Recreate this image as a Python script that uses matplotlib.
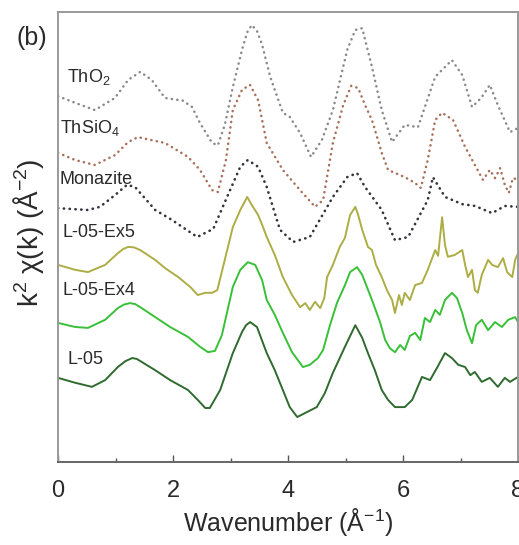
import numpy as np
import matplotlib.pyplot as plt
from matplotlib.ticker import MultipleLocator

plt.rcParams['font.family'] = ['Liberation Sans', 'DejaVu Sans']
plt.rcParams['mathtext.default'] = 'regular'

# stacked k^2-weighted EXAFS spectra (offsets already included)
k_tho2 = [0.0, 0.30, 0.64, 0.99, 1.22, 1.43, 1.63, 1.86, 2.17, 2.33, 2.47, 2.68, 2.78, 2.90,
          3.04, 3.20, 3.29, 3.37, 3.46, 3.55, 3.69, 3.91, 4.03, 4.21, 4.40, 4.59, 4.78, 5.03,
          5.17, 5.29, 5.46, 5.63, 5.81, 6.03, 6.26, 6.56, 6.85, 7.03, 7.20, 7.36, 7.51, 7.65,
          7.86, 8.0]
chi_tho2 = [8.13, 7.98, 7.82, 8.09, 8.49, 8.67, 8.49, 8.09, 8.03, 7.89, 7.53, 7.09, 7.04, 7.49,
            8.33, 9.16, 9.55, 9.71, 9.58, 9.27, 8.56, 7.76, 7.67, 7.31, 6.78, 7.16, 7.82, 9.16,
            9.60, 9.64, 8.78, 7.82, 7.11, 7.49, 7.44, 8.56, 8.93, 8.60, 7.89, 8.09, 8.38, 7.93,
            7.33, 7.42]

k_thsio4 = [0.0, 0.30, 0.64, 0.99, 1.22, 1.39, 1.60, 1.86, 2.26, 2.47, 2.68, 2.78, 2.92, 3.04,
            3.20, 3.34, 3.48, 3.63, 3.91, 4.21, 4.47, 4.61, 4.78, 4.96, 5.10, 5.22, 5.34, 5.46,
            5.63, 5.74, 6.03, 6.21, 6.31, 6.43, 6.56, 6.68, 6.87, 7.08, 7.25, 7.39, 7.51, 7.60,
            7.69, 7.77, 7.84, 7.91, 8.0]
chi_thsio4 = [6.87, 6.71, 6.60, 6.82, 7.11, 7.22, 7.16, 7.09, 6.78, 6.49, 6.04, 6.00, 6.71, 7.82,
              8.27, 8.38, 8.04, 7.09, 6.49, 6.04, 5.67, 5.82, 7.09, 7.93, 8.36, 8.31, 7.93, 7.60,
              6.87, 6.49, 6.33, 6.20, 6.09, 6.71, 7.60, 7.76, 7.60, 7.00, 6.60, 6.27, 6.49, 6.31,
              6.53, 6.16, 5.98, 6.31, 6.27]

k_monazite = [0.0, 0.52, 0.73, 0.99, 1.20, 1.34, 1.69, 1.98, 2.42, 2.70, 2.94, 3.17, 3.30, 3.48,
              3.63, 3.86, 4.09, 4.38, 4.78, 5.03, 5.20, 5.34, 5.63, 5.86, 6.09, 6.43, 6.52, 6.73,
              7.03, 7.25, 7.55, 7.77, 8.0]
chi_monazite = [5.64, 5.60, 5.67, 5.93, 6.16, 6.11, 5.60, 5.38, 5.00, 5.18, 5.89, 6.56, 6.71, 6.56,
                6.11, 5.16, 4.89, 5.00, 5.89, 6.33, 6.42, 6.11, 5.60, 4.93, 5.00, 5.82, 6.33, 5.89,
                5.73, 5.69, 5.53, 5.69, 5.67]

k_ex5 = [0.0, 0.30, 0.52, 0.82, 1.04, 1.13, 1.22, 1.32, 1.43, 1.69, 1.86, 2.09, 2.30, 2.43, 2.56,
         2.68, 2.77, 2.90, 3.04, 3.17, 3.29, 3.37, 3.48, 3.55, 3.63, 3.77, 3.91, 4.07, 4.21, 4.30,
         4.38, 4.47, 4.56, 4.63, 4.68, 4.78, 4.90, 4.99, 5.08, 5.17, 5.22, 5.29, 5.39, 5.46, 5.53,
         5.63, 5.72, 5.81, 5.86, 5.93, 5.98, 6.03, 6.12, 6.21, 6.33, 6.43, 6.56, 6.61, 6.68, 6.73,
         6.78, 6.90, 7.03, 7.08, 7.13, 7.20, 7.25, 7.30, 7.37, 7.48, 7.55, 7.65, 7.74, 7.81, 7.90,
         7.95, 8.0]
chi_ex5 = [4.38, 4.27, 4.22, 4.38, 4.64, 4.73, 4.78, 4.77, 4.71, 4.49, 4.31, 4.11, 3.89, 3.71, 3.76,
           3.76, 3.82, 4.49, 5.22, 5.60, 5.89, 5.71, 5.49, 5.27, 5.00, 4.60, 4.11, 3.71, 3.44, 3.53,
           3.38, 3.56, 3.42, 3.64, 4.11, 4.38, 4.78, 4.98, 5.49, 5.67, 5.49, 5.16, 4.78, 4.71, 4.38,
           4.11, 3.82, 3.60, 3.31, 3.71, 3.49, 3.76, 3.60, 3.93, 3.98, 4.27, 4.71, 4.58, 5.44, 4.82,
           4.56, 4.60, 4.71, 4.38, 4.11, 4.27, 3.82, 3.76, 4.16, 4.49, 4.38, 4.33, 4.53, 4.22, 4.11,
           4.49, 4.64]

k_ex4 = [0.0, 0.30, 0.52, 0.82, 1.04, 1.15, 1.25, 1.34, 1.43, 1.69, 1.95, 2.26, 2.47, 2.61, 2.73,
         2.85, 3.04, 3.17, 3.30, 3.43, 3.55, 3.63, 3.77, 3.91, 4.07, 4.26, 4.38, 4.52, 4.61, 4.73,
         4.85, 4.99, 5.08, 5.20, 5.29, 5.46, 5.60, 5.69, 5.77, 5.86, 5.95, 6.03, 6.12, 6.21, 6.30,
         6.38, 6.47, 6.56, 6.64, 6.73, 6.85, 6.94, 7.03, 7.11, 7.20, 7.27, 7.37, 7.48, 7.60, 7.72,
         7.83, 7.95, 8.0]
chi_ex4 = [3.09, 3.00, 2.98, 3.16, 3.42, 3.50, 3.53, 3.51, 3.44, 3.22, 3.00, 2.78, 2.56, 2.44, 2.47,
           2.82, 3.89, 4.27, 4.44, 4.38, 4.04, 3.60, 3.27, 2.87, 2.44, 2.11, 2.16, 2.31, 2.49, 3.04,
           3.53, 3.93, 4.22, 4.33, 4.16, 3.60, 3.11, 2.71, 2.53, 2.44, 2.60, 2.49, 2.80, 2.87, 2.71,
           3.20, 3.11, 3.38, 3.27, 3.60, 3.76, 3.64, 3.31, 2.93, 2.64, 3.04, 3.16, 2.93, 3.11, 3.00,
           3.16, 3.22, 3.11]

k_l05 = [0.0, 0.30, 0.59, 0.82, 1.04, 1.17, 1.29, 1.37, 1.46, 1.69, 1.95, 2.26, 2.43, 2.56, 2.64,
         2.82, 3.04, 3.20, 3.27, 3.34, 3.46, 3.63, 3.77, 3.91, 4.03, 4.16, 4.30, 4.50, 4.64, 4.78,
         4.99, 5.17, 5.29, 5.39, 5.51, 5.63, 5.74, 5.86, 6.03, 6.16, 6.33, 6.47, 6.59, 6.73, 6.85,
         6.96, 7.08, 7.17, 7.25, 7.37, 7.51, 7.65, 7.77, 7.86, 8.0]
chi_l05 = [1.87, 1.76, 1.67, 1.82, 2.11, 2.24, 2.31, 2.29, 2.22, 2.04, 1.82, 1.60, 1.38, 1.20, 1.20,
           1.60, 2.42, 2.89, 3.04, 3.11, 3.00, 2.42, 2.04, 1.60, 1.22, 1.00, 1.09, 1.22, 1.53, 1.98,
           2.56, 3.04, 2.76, 2.42, 2.04, 1.60, 1.38, 1.22, 1.22, 1.38, 1.89, 1.82, 2.09, 2.42, 2.31,
           2.16, 2.11, 1.93, 2.00, 1.78, 1.87, 1.67, 1.87, 1.78, 1.89]

sample_names = ['ThO$_2$', 'ThSiO$_4$', 'Monazite', 'L-05-Ex5', 'L-05-Ex4', 'L-05']
label_k = [0.16, 0.03, 0.03, 0.07, 0.07, 0.17]
label_chi = [8.56, 7.42, 6.27, 5.09, 3.82, 2.27]

fig = plt.figure(figsize=(5.19, 5.45), dpi=100)
ax = fig.add_axes([0.1118, 0.1523, 0.8863, 0.8257])

dots = (0, (0.1, 2.1))
ax.plot(k_tho2, chi_tho2, color='#8a8a8a', lw=1.8, ls=dots, dash_capstyle='round')
ax.plot(k_thsio4, chi_thsio4, color='#a8705a', lw=1.8, ls=dots, dash_capstyle='round')
ax.plot(k_monazite, chi_monazite, color='#33333d', lw=1.9, ls=dots, dash_capstyle='round')
ax.plot(k_ex5, chi_ex5, color='#adad45', lw=1.4)
ax.plot(k_ex4, chi_ex4, color='#38c038', lw=1.4)
ax.plot(k_l05, chi_l05, color='#2f6a2f', lw=1.4)

for name, kx, cy in zip(sample_names, label_k, label_chi):
    ax.text(kx, cy, name, fontsize=13, color='#2a2a2a', ha='left', va='center')

ax.set_xlim(0, 8)
ax.set_ylim(0, 10)
ax.xaxis.set_major_locator(MultipleLocator(2))
ax.xaxis.set_minor_locator(MultipleLocator(1))
ax.tick_params(axis='x', which='both', direction='in', top=False, labelsize=17,
               pad=13, colors='#555555', labelcolor='#2a2a2a')
ax.tick_params(axis='x', which='major', length=5, width=1)
ax.tick_params(axis='x', which='minor', length=3, width=1)
ax.set_yticks([])

for side in ['top', 'right', 'left']:
    ax.spines[side].set_color('#9a9a9a')
    ax.spines[side].set_linewidth(1.4)
ax.spines['bottom'].set_color('#666666')
ax.spines['bottom'].set_linewidth(1.4)

ax.set_xlabel('Wavenumber (Å$^{-1}$)', fontsize=18, color='#2a2a2a', labelpad=3)
fig.text(28 / 519, 1 - 233 / 545, 'k$^2$ χ(k) (Å$^{-2}$)', rotation=90, fontsize=20,
         color='#2a2a2a', ha='center', va='center')
fig.text(17 / 519, 1 - 38 / 545, '(b)', fontsize=18, color='#2a2a2a', ha='left', va='center')

fig.savefig('out.png', dpi=100)
